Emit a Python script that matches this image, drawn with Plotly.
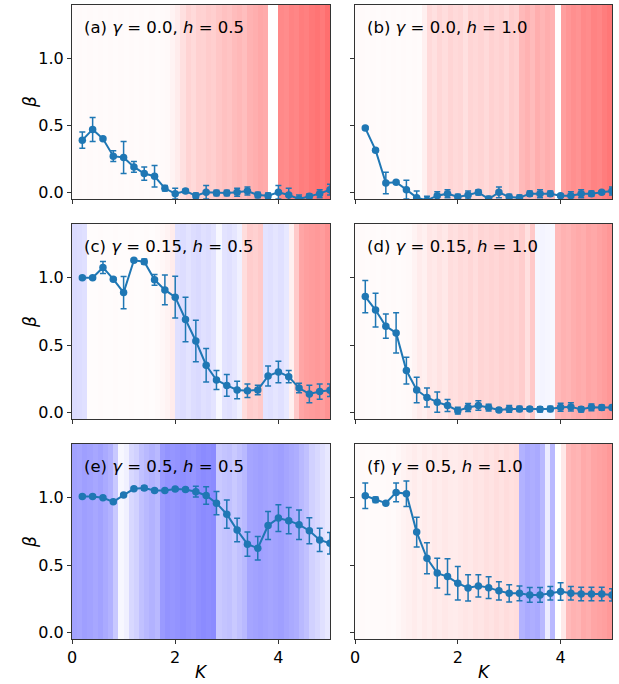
import plotly.graph_objects as go

K = [0.2, 0.4, 0.6, 0.8, 1.0, 1.2, 1.4, 1.6, 1.8, 2.0, 2.2, 2.4, 2.6, 2.8, 3.0,
     3.2, 3.4, 3.6, 3.8, 4.0, 4.2, 4.4, 4.6, 4.8, 5.0]

beta_a = [0.39, 0.47, 0.40, 0.27, 0.26, 0.19, 0.14, 0.12, 0.03, -0.01, 0.01, -0.025, 0.0,
          -0.005, -0.005, 0.0, 0.01, -0.02, -0.025, 0.0, -0.02, -0.05, -0.03, -0.01, 0.02]
err_a = [0.06, 0.09, 0.01, 0.04, 0.12, 0.04, 0.05, 0.08, 0.02, 0.04, 0.015, 0.02, 0.05,
         0.02, 0.02, 0.03, 0.03, 0.02, 0.02, 0.05, 0.05, 0.03, 0.02, 0.03, 0.04]

beta_b = [0.48, 0.315, 0.07, 0.075, 0.02, -0.04, -0.06, -0.025, -0.01, -0.035, -0.02, 0.0, -0.05,
          0.0, -0.035, -0.04, -0.01, -0.01, -0.01, -0.025, -0.025, -0.01, -0.01, 0.0, 0.01]
err_b = [0.01, 0.01, 0.08, 0.01, 0.07, 0.05, 0.03, 0.03, 0.03, 0.02, 0.03, 0.02, 0.02,
         0.04, 0.02, 0.02, 0.02, 0.03, 0.02, 0.01, 0.03, 0.03, 0.02, 0.01, 0.03]

beta_c = [1.0, 1.0, 1.077, 0.99, 0.89, 1.13, 1.12, 0.985, 0.91, 0.856, 0.69, 0.53, 0.35,
          0.24, 0.20, 0.166, 0.16, 0.166, 0.27, 0.30, 0.265, 0.18, 0.136, 0.154, 0.164]
err_c = [0.01, 0.01, 0.045, 0.01, 0.12, 0.01, 0.02, 0.04, 0.11, 0.155, 0.165, 0.155, 0.125,
         0.07, 0.08, 0.065, 0.05, 0.035, 0.075, 0.08, 0.045, 0.035, 0.065, 0.057, 0.047]

beta_d = [0.86, 0.76, 0.64, 0.59, 0.31, 0.166, 0.11, 0.075, 0.05, 0.012, 0.035, 0.05, 0.035,
          0.017, 0.025, 0.025, 0.025, 0.022, 0.025, 0.037, 0.04, 0.022, 0.037, 0.035, 0.035]
err_d = [0.12, 0.125, 0.09, 0.15, 0.10, 0.095, 0.07, 0.075, 0.045, 0.025, 0.03, 0.035, 0.025,
         0.015, 0.025, 0.02, 0.015, 0.02, 0.02, 0.03, 0.03, 0.02, 0.025, 0.02, 0.015]

beta_e = [1.01, 1.01, 1.0, 0.97, 1.02, 1.067, 1.072, 1.055, 1.055, 1.065, 1.062, 1.045, 1.017,
          0.96, 0.878, 0.76, 0.655, 0.625, 0.794, 0.849, 0.83, 0.80, 0.755, 0.687, 0.662]
err_e = [0.01, 0.01, 0.01, 0.01, 0.01, 0.01, 0.015, 0.01, 0.01, 0.01, 0.01, 0.04, 0.065,
         0.087, 0.105, 0.087, 0.09, 0.087, 0.105, 0.10, 0.097, 0.11, 0.097, 0.087, 0.08]

beta_f = [1.015, 0.985, 0.96, 1.04, 1.03, 0.745, 0.55, 0.44, 0.414, 0.365, 0.33, 0.345, 0.332,
          0.308, 0.29, 0.29, 0.278, 0.278, 0.29, 0.303, 0.29, 0.285, 0.285, 0.285, 0.278]
err_f = [0.095, 0.02, 0.01, 0.07, 0.095, 0.11, 0.115, 0.11, 0.133, 0.125, 0.097, 0.083, 0.08,
         0.068, 0.064, 0.055, 0.055, 0.055, 0.05, 0.065, 0.05, 0.05, 0.05, 0.05, 0.045]

# background stripe values (one per 0.1-wide K cell, 0..5), diverging blue(-)/red(+)
bg_a = [0.025, 0.03, 0.025, 0.03, 0.025, 0.03, 0.025, 0.03, 0.025, 0.03,
        0.025, 0.03, 0.025, 0.03, 0.025, 0.03, 0.025, 0.03, 0.04, 0.08,
        0.12, 0.2, 0.28, 0.24, 0.3, 0.29, 0.33, 0.31, 0.36, 0.4,
        0.38, 0.43, 0.46, 0.42, 0.5, 0.52, 0.56, 0.54, 0.0, 0.0,
        0.76, 0.74, 0.8, 0.78, 0.84, 0.82, 0.87, 0.9, 0.86, 0.93]
bg_b = [0.025, 0.03, 0.025, 0.03, 0.025, 0.03, 0.025, 0.03, 0.025, 0.03,
        0.025, 0.03, 0.025, 0.1, 0.24, 0.2, 0.26, 0.22, 0.27, 0.24,
        0.26, 0.2, 0.27, 0.25, 0.28, 0.24, 0.3, 0.27, 0.3, 0.26,
        0.32, 0.3, 0.45, 0.5, 0.44, 0.52, 0.48, 0.52, 0.49, 0.0,
        0.62, 0.68, 0.72, 0.7, 0.76, 0.74, 0.8, 0.78, 0.84, 0.88]
bg_c = [-0.23, -0.22, -0.2, 0.02, 0.02, 0.025, 0.02, 0.02, 0.025, 0.02,
        0.02, 0.025, 0.02, 0.02, 0.025, 0.02, 0.03, 0.05, 0.08, 0.12,
        -0.2, -0.22, -0.18, -0.22, -0.24, -0.2, -0.22, -0.18, -0.05, -0.18,
        -0.2, -0.16, -0.1, 0.22, 0.32, 0.3, 0.34, -0.18, -0.2, -0.17,
        -0.2, -0.15, 0.1, 0.35, 0.58, 0.62, 0.64, 0.66, 0.64, 0.7]
bg_d = [0.025, 0.03, 0.025, 0.03, 0.025, 0.03, 0.025, 0.03, 0.025, 0.03,
        0.04, 0.08, 0.12, 0.1, 0.16, 0.14, 0.18, 0.15, 0.22, 0.2,
        0.24, 0.22, 0.26, 0.22, 0.27, 0.25, 0.28, 0.26, 0.3, 0.28,
        0.3, 0.27, 0.32, 0.2, 0.35, -0.06, -0.07, -0.06, -0.05, 0.45,
        0.5, 0.48, 0.52, 0.55, 0.53, 0.58, 0.56, 0.6, 0.63, 0.67]
bg_e = [-0.6, -0.58, -0.62, -0.6, -0.57, -0.6, -0.55, -0.5, -0.35, -0.05,
        -0.1, -0.25, -0.3, -0.4, -0.45, -0.5, -0.45, -0.65, -0.7, -0.68,
        -0.7, -0.72, -0.7, -0.68, -0.72, -0.75, -0.73, -0.75, -0.35, -0.38,
        -0.4, -0.35, -0.4, -0.45, -0.58, -0.6, -0.62, -0.6, -0.58, -0.6,
        -0.62, -0.58, -0.55, -0.52, -0.45, -0.4, -0.3, -0.25, -0.2, -0.15]
bg_f = [0.02, 0.03, 0.025, 0.03, 0.035, 0.03, 0.04, 0.035, 0.05, 0.08,
        0.1, 0.12, 0.1, 0.13, 0.11, 0.14, 0.12, 0.15, 0.13, 0.12,
        0.14, 0.16, 0.15, 0.18, 0.17, 0.2, 0.18, 0.21, 0.19, 0.22,
        0.2, 0.22, -0.5, -0.55, -0.52, -0.55, -0.45, -0.12, -0.45, 0.0,
        0.15, 0.45, 0.5, 0.48, 0.55, 0.52, 0.58, 0.6, 0.62, 0.66]

labels = ["(a) <i>γ</i> = 0.0, <i>h</i> = 0.5", "(b) <i>γ</i> = 0.0, <i>h</i> = 1.0",
          "(c) <i>γ</i> = 0.15, <i>h</i> = 0.5", "(d) <i>γ</i> = 0.15, <i>h</i> = 1.0",
          "(e) <i>γ</i> = 0.5, <i>h</i> = 0.5", "(f) <i>γ</i> = 0.5, <i>h</i> = 1.0"]

betas = [beta_a, beta_b, beta_c, beta_d, beta_e, beta_f]
errs = [err_a, err_b, err_c, err_d, err_e, err_f]
bgs = [bg_a, bg_b, bg_c, bg_d, bg_e, bg_f]

W, H = 619, 684
ML, MR, MT, MB = 72, 7, 5, 45
PW, PH = W - ML - MR, H - MT - MB


def px_x(px):
    return (px - ML) / PW


def px_y(py):
    return (H - MB - py) / PH


xdoms = [[px_x(72), px_x(330)], [px_x(355), px_x(612)]]
ydoms = [[px_y(199), px_y(5)], [px_y(419), px_y(224)], [px_y(639), px_y(444)]]

edges = [round(0.1 * i, 2) for i in range(51)]
YMIN, YMAX = -0.05, 1.4
cscale = [[0, 'rgb(100,100,255)'], [0.5, 'rgb(255,255,255)'], [1, 'rgb(255,100,100)']]
blue = '#1f77b4'
FONT = "DejaVu Sans"

fig = go.Figure()
layout = {}
for idx in range(6):
    r, c = idx // 2, idx % 2
    n = idx + 1
    xa = 'x' if n == 1 else f'x{n}'
    ya = 'y' if n == 1 else f'y{n}'
    fig.add_trace(go.Heatmap(x=edges, y=[YMIN, YMAX], z=[bgs[idx]], colorscale=cscale,
                             zmin=-1, zmax=1, showscale=False, xaxis=xa, yaxis=ya,
                             hoverinfo='skip'))
    fig.add_trace(go.Scatter(x=K, y=betas[idx], mode='lines+markers', xaxis=xa, yaxis=ya,
                             line=dict(color=blue, width=2), marker=dict(color=blue, size=7.5),
                             error_y=dict(type='data', array=errs[idx], color=blue,
                                          thickness=1.5, width=3),
                             showlegend=False))
    xkey = 'xaxis' if n == 1 else f'xaxis{n}'
    ykey = 'yaxis' if n == 1 else f'yaxis{n}'
    layout[xkey] = dict(domain=xdoms[c], anchor=ya, range=[0, 5], tickvals=[0, 2, 4],
                        ticktext=['0', '2', '4'], showticklabels=(r == 2), ticks='outside',
                        ticklen=4, tickcolor='#333', showline=True, linecolor='#333',
                        linewidth=1, mirror=True, showgrid=False, zeroline=False,
                        automargin=False,
                        tickfont=dict(size=16, color='black', family=FONT))
    layout[ykey] = dict(domain=ydoms[r], anchor=xa, range=[YMIN, YMAX], tickvals=[0, 0.5, 1.0],
                        ticktext=['0.0', '0.5', '1.0'], showticklabels=(c == 0), ticks='outside',
                        ticklen=4, tickcolor='#333', showline=True, linecolor='#333',
                        linewidth=1, mirror=True, showgrid=False, zeroline=False,
                        automargin=False,
                        tickfont=dict(size=16, color='black', family=FONT))
    fig.add_annotation(x=0.038, y=0.885, xref=f'{xa} domain', yref=f'{ya} domain',
                       text=labels[idx], showarrow=False, xanchor='left', yanchor='middle',
                       font=dict(size=16.5, color='black', family=FONT))

# axis labels
for py in [102, 322, 542]:
    fig.add_annotation(x=px_x(30), y=px_y(py), xref='paper', yref='paper', text='<i>β</i>',
                       showarrow=False, xanchor='center', yanchor='middle', textangle=-90,
                       font=dict(size=17, color='black', family=FONT))
for pxc in [201, 484]:
    fig.add_annotation(x=px_x(pxc), y=px_y(672), xref='paper', yref='paper', text='<i>K</i>',
                       showarrow=False, xanchor='center', yanchor='middle',
                       font=dict(size=17, color='black', family=FONT))

fig.update_layout(width=W, height=H, margin=dict(l=ML, r=MR, t=MT, b=MB, autoexpand=False),
                  paper_bgcolor='white', plot_bgcolor='white', showlegend=False,
                  font=dict(family=FONT), **layout)
fig.write_html("out.html")
